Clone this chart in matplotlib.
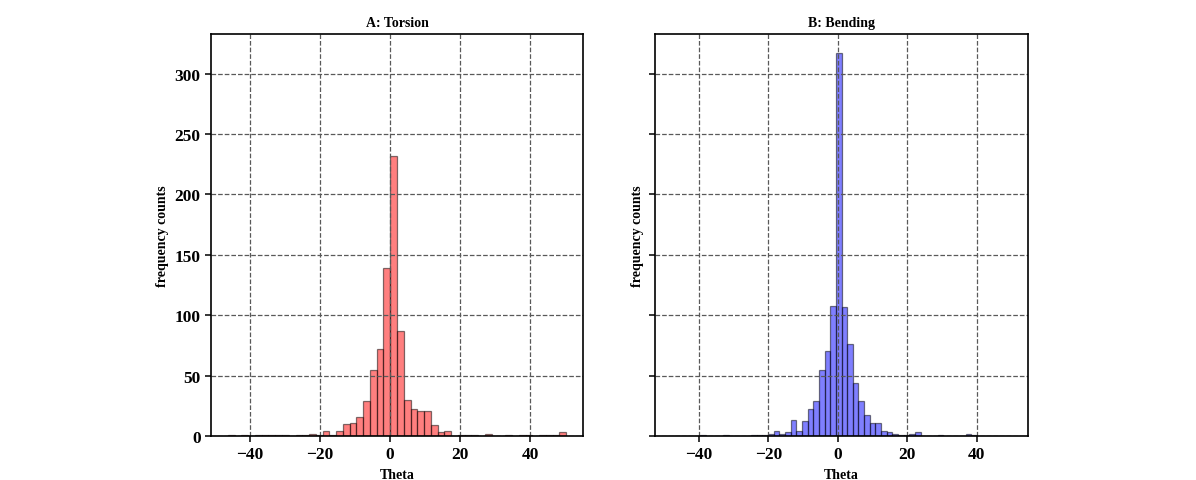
import numpy as np
import matplotlib.pyplot as plt

plt.rcParams["font.family"] = ["Liberation Serif", "DejaVu Serif"]
plt.rcParams["font.weight"] = "bold"

# histogram counts per bin (torsion: 50 bins, bending: 60 bins)
torsion_range = (-46.3, 50.2)
torsion_counts = [1, 0, 1, 0, 1, 1, 1, 1, 1, 0,
                  1, 1, 2, 1, 4, 1, 4, 10, 11, 16,
                  29, 55, 72, 139, 232, 87, 30, 22, 21, 21,
                  9, 3, 4, 0, 1, 1, 1, 0, 2, 0,
                  0, 1, 0, 1, 1, 0, 1, 1, 1, 3]

bending_range = (-47.7, 49.8)
bending_counts = [0, 0, 0, 0, 0, 1, 0, 0, 0, 1,
                  0, 0, 0, 0, 1, 1, 1, 2, 4, 2,
                  3, 13, 4, 12, 22, 29, 55, 70, 108, 317,
                  107, 76, 44, 29, 17, 11, 11, 4, 3, 2,
                  1, 1, 2, 3, 0, 0, 0, 1, 0, 0,
                  0, 0, 2, 1, 0, 0, 0, 0, 0, 0]

panels = [
    ("A: Torsion", torsion_range, torsion_counts, "red"),
    ("B: Bending", bending_range, bending_counts, "blue"),
]


def draw_hist(ax, title, rng, counts, color):
    edges = np.linspace(rng[0], rng[1], len(counts) + 1)
    ax.bar(edges[:-1], counts, width=np.diff(edges), align="edge",
           color=color, alpha=0.5, edgecolor="black", linewidth=0.9)
    ax.grid(True, linestyle="--", color="0.35", linewidth=0.9)
    ax.set_title(title, fontsize=10, fontweight="bold")
    ax.set_xlabel("Theta", fontsize=10, fontweight="bold", labelpad=4)
    ax.set_ylabel("frequency counts", fontsize=10, fontweight="bold")
    ax.tick_params(labelsize=12.5, width=1.1, length=4)
    for sp in ax.spines.values():
        sp.set_linewidth(1.2)


fig = plt.figure(figsize=(11.96, 4.81), dpi=100)
ax1 = fig.add_axes([0.1764, 0.0915, 0.3111, 0.8357])
ax2 = fig.add_axes([0.5477, 0.0915, 0.3118, 0.8357], sharey=ax1)
for ax, (title, rng, counts, color) in zip([ax1, ax2], panels):
    draw_hist(ax, title, rng, counts, color)
ax2.tick_params(labelleft=False)
ax1.set_yticks(np.arange(0, 301, 50))

fig.savefig("out.png", dpi=100)
